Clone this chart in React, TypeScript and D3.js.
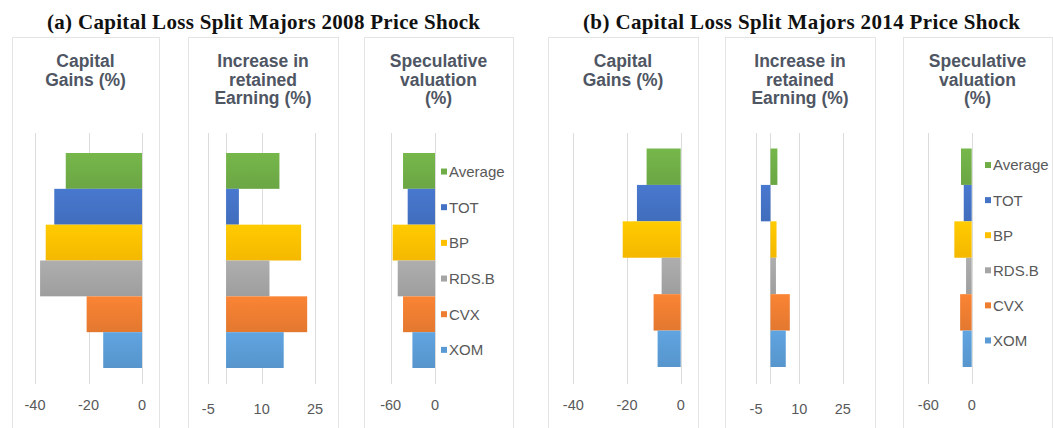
import React from "react";
import * as d3 from "d3";

const companies = ["Average", "TOT", "BP", "RDS.B", "CVX", "XOM"];
const companyColors = ["#70AD47", "#4472C4", "#FFC000", "#A5A5A5", "#ED7D31", "#5B9BD5"];

const capGains2008 = [-28.5, -32.8, -36.0, -38.1, -20.7, -14.5];
const retained2008 = [15.0, 3.6, 21.1, 12.2, 22.8, 16.2];
const specVal2008 = [-43.3, -37.0, -57.3, -50.5, -43.3, -30.6];

const capGains2014 = [-12.7, -16.3, -21.6, -7.1, -10.1, -8.6];
const retained2014 = [2.4, -3.3, 2.1, 1.9, 6.7, 5.3];
const specVal2014 = [-14.8, -11.0, -24.0, -7.8, -16.0, -12.5];

const capTicks = [-40, -20, 0];
const retTicks = [-5, 10, 25];
const specTicks = [-60, 0];

const panelTitles = [
  "(a) Capital Loss Split Majors 2008 Price Shock",
  "(b) Capital Loss Split Majors 2014 Price Shock",
];
const subTitles = [
  ["Capital", "Gains (%)"],
  ["Increase in", "retained", "Earning (%)"],
  ["Speculative", "valuation", "(%)"],
];

const W = 1053;
const H = 428;
const textColor = "#595959";
const headColor = "#4f5663";
const gridColor = "#dcdcdc";
const sans = "'Liberation Sans', Arial, sans-serif";

type Sub = {
  box: [number, number];
  values: number[];
  ticks: number[];
  range: [number, number];
  tickY: number;
};

type Group = {
  title: string;
  titleX: number;
  titleW: number;
  bars: [number, number];
  legend: [number, number];
  legendX: number;
  subs: Sub[];
};

const groups: Group[] = [
  {
    title: panelTitles[0],
    titleX: 263.5,
    titleW: 433,
    bars: [153, 368],
    legend: [153.7, 367.7],
    legendX: 441,
    subs: [
      { box: [12, 159], values: capGains2008, ticks: capTicks, range: [35, 142], tickY: 410 },
      { box: [188, 338], values: retained2008, ticks: retTicks, range: [208.3, 315], tickY: 414 },
      { box: [364, 513], values: specVal2008, ticks: specTicks, range: [390.7, 435], tickY: 410 },
    ],
  },
  {
    title: panelTitles[1],
    titleX: 801.5,
    titleW: 437,
    bars: [148.5, 367],
    legend: [147.5, 358],
    legendX: 985,
    subs: [
      { box: [548, 698], values: capGains2014, ticks: capTicks, range: [573.3, 680.7], tickY: 410 },
      { box: [725, 875], values: retained2014, ticks: retTicks, range: [756, 842.7], tickY: 414 },
      { box: [903, 1052], values: specVal2014, ticks: specTicks, range: [928.3, 971.7], tickY: 410 },
    ],
  },
];

export default function App() {
  return (
    <svg
      width={W}
      height={H}
      style={{ position: "absolute", left: 0, top: 0, background: "#fff" }}
      xmlns="http://www.w3.org/2000/svg"
    >
      <defs>
        {companyColors.map((c, i) => {
          const col = d3.color(c)!;
          return (
            <linearGradient key={i} id={`g${i}`} x1="0" y1="0" x2="0" y2="1">
              <stop offset="0" stopColor={col.brighter(0.15).formatHex()} />
              <stop offset="1" stopColor={col.darker(0.12).formatHex()} />
            </linearGradient>
          );
        })}
      </defs>
      <rect x={0} y={0} width={W} height={H} fill="#fff" />
      {groups.map((g, gi) => {
        const y = d3.scaleBand<string>().domain(companies).range(g.bars).padding(0);
        const ly = d3.scaleBand<string>().domain(companies).range(g.legend).padding(0);
        return (
          <g key={gi}>
            <text
              x={g.titleX}
              y={29}
              textAnchor="middle"
              fontFamily="'Liberation Serif', 'Times New Roman', serif"
              fontWeight="bold"
              fontSize={21}
              textLength={g.titleW}
              lengthAdjust="spacing"
              fill="#111"
            >
              {g.title}
            </text>
            {g.subs.map((s, si) => {
              const x = d3.scaleLinear().domain([s.ticks[0], s.ticks[s.ticks.length - 1]]).range(s.range);
              const cx = (s.box[0] + s.box[1]) / 2;
              const x0 = x(0);
              return (
                <g key={si}>
                  <rect
                    x={s.box[0] + 0.5}
                    y={37.5}
                    width={s.box[1] - s.box[0]}
                    height={H}
                    fill="#fff"
                    stroke="#e4e4e4"
                    strokeWidth={1}
                  />
                  {subTitles[si].map((t, ti) => (
                    <text
                      key={ti}
                      x={cx}
                      y={67 + ti * 18.5}
                      textAnchor="middle"
                      fontFamily={sans}
                      fontWeight="bold"
                      fontSize={17.5}
                      fill={headColor}
                    >
                      {t}
                    </text>
                  ))}
                  {s.ticks.map((t) => (
                    <line
                      key={`gl${t}`}
                      x1={Math.round(x(t)) + 0.5}
                      x2={Math.round(x(t)) + 0.5}
                      y1={133}
                      y2={384}
                      stroke={gridColor}
                      strokeWidth={1}
                    />
                  ))}
                  {!s.ticks.includes(0) && (
                    <line
                      x1={Math.round(x0) + 0.5}
                      x2={Math.round(x0) + 0.5}
                      y1={133}
                      y2={384}
                      stroke={gridColor}
                      strokeWidth={1}
                    />
                  )}
                  {s.values.map((v, i) => (
                    <rect
                      key={companies[i]}
                      x={Math.min(x(v), x0)}
                      y={y(companies[i])!}
                      width={Math.abs(x(v) - x0)}
                      height={y.bandwidth()}
                      fill={`url(#g${i})`}
                    />
                  ))}
                  {s.ticks.map((t) => (
                    <text
                      key={`tl${t}`}
                      x={x(t)}
                      y={s.tickY}
                      textAnchor="middle"
                      fontFamily={sans}
                      fontSize={14.5}
                      fill={textColor}
                    >
                      {t}
                    </text>
                  ))}
                </g>
              );
            })}
            {companies.map((c, i) => {
              const cy = ly(c)! + ly.bandwidth() / 2;
              return (
                <g key={`lg${c}`}>
                  <rect x={g.legendX} y={cy - 3} width={6} height={6} fill={companyColors[i]} />
                  <text
                    x={g.legendX + 8}
                    y={cy}
                    dy="0.36em"
                    fontFamily={sans}
                    fontSize={15}
                    fill={textColor}
                  >
                    {c}
                  </text>
                </g>
              );
            })}
          </g>
        );
      })}
    </svg>
  );
}
